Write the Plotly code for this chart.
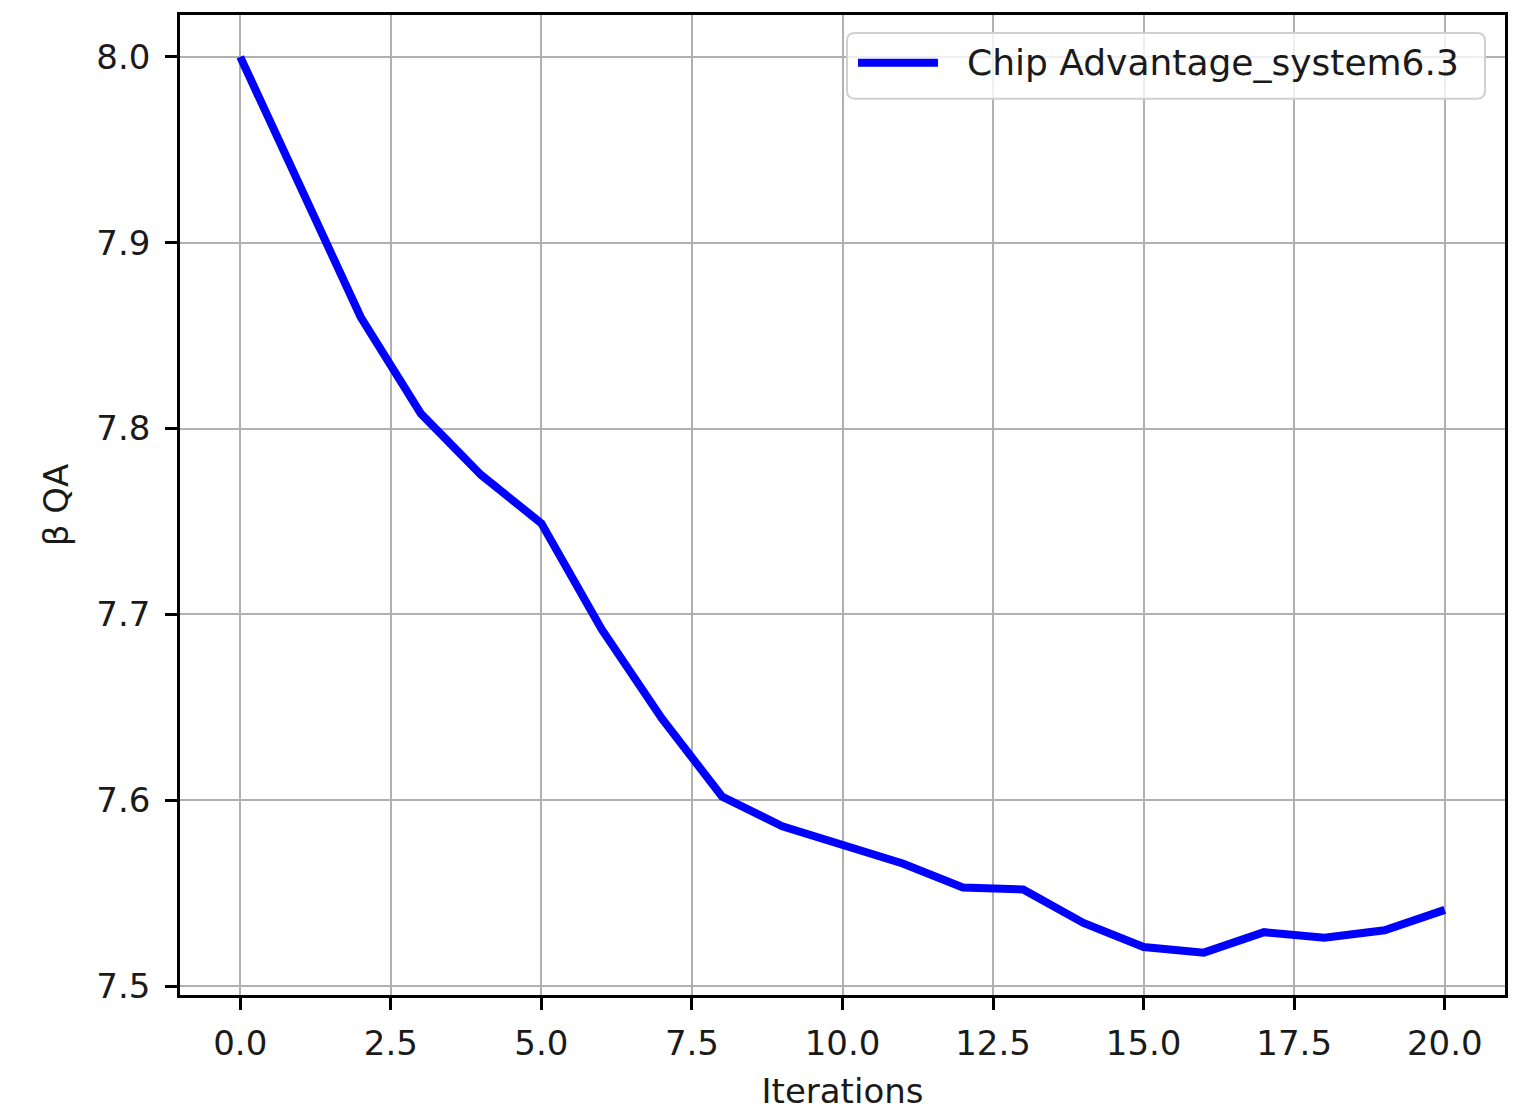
import plotly.graph_objects as go

# Beta QA value per iteration for the chip run
iterations = list(range(21))
beta_qa = [8.000, 7.929, 7.860, 7.808, 7.775, 7.749, 7.692, 7.644, 7.602, 7.586,
           7.576, 7.566, 7.553, 7.552, 7.534, 7.521, 7.518, 7.529, 7.526, 7.530, 7.541]
series_name = "Chip Advantage_system6.3"

x_ticks = [0, 2.5, 5, 7.5, 10, 12.5, 15, 17.5, 20]
x_tick_text = ["0.0", "2.5", "5.0", "7.5", "10.0", "12.5", "15.0", "17.5", "20.0"]
y_ticks = [7.5, 7.6, 7.7, 7.8, 7.9, 8.0]
y_tick_text = ["7.5", "7.6", "7.7", "7.8", "7.9", "8.0"]

FONT = "DejaVu Sans"
TEXT = "#1a1a1a"
GRID = "#b0b0b0"
LINE_COLOR = "#0000ff"
FS = 34

fig = go.Figure()
fig.add_trace(go.Scatter(
    x=iterations, y=beta_qa, mode="lines", name=series_name,
    line=dict(color=LINE_COLOR, width=8), showlegend=False,
))

axis_common = dict(
    showline=True, linecolor="black", linewidth=2.6, mirror=True,
    showgrid=True, gridcolor=GRID, gridwidth=2.2,
    ticks="outside", ticklen=12, tickwidth=2.6, tickcolor="black",
    zeroline=False, tickfont=dict(family=FONT, size=FS, color=TEXT),
)

fig.update_xaxes(
    range=[-1.0, 21.0], tickmode="array", tickvals=x_ticks, ticktext=x_tick_text,
    ticklabelstandoff=4,
    title=dict(text="Iterations", font=dict(family=FONT, size=FS, color=TEXT), standoff=18),
    **axis_common,
)
fig.update_yaxes(
    range=[7.4952, 8.0225], tickmode="array", tickvals=y_ticks, ticktext=y_tick_text,
    ticklabelstandoff=8,
    title=dict(text="β QA", font=dict(family=FONT, size=FS, color=TEXT), standoff=18),
    **axis_common,
)

# Legend box (rounded frame) in the upper-right corner of the plot area
bx0, bx1, by0, by1 = 0.5034, 0.9849, 0.9146, 0.9817
rx, ry = 0.006, 0.008
legend_path = (
    f"M{bx0 + rx},{by1} L{bx1 - rx},{by1} Q{bx1},{by1} {bx1},{by1 - ry} "
    f"L{bx1},{by0 + ry} Q{bx1},{by0} {bx1 - rx},{by0} "
    f"L{bx0 + rx},{by0} Q{bx0},{by0} {bx0},{by0 + ry} "
    f"L{bx0},{by1 - ry} Q{bx0},{by1} {bx0 + rx},{by1} Z"
)
legend_y = 0.9512

fig.update_layout(
    width=1522, height=1116,
    margin=dict(l=180, r=17, t=14, b=118),
    paper_bgcolor="white", plot_bgcolor="white",
    showlegend=False,
    shapes=[
        dict(type="path", xref="paper", yref="paper", path=legend_path,
             fillcolor="rgba(255,255,255,0.8)", line=dict(color="#d0d0d0", width=2),
             layer="above"),
        dict(type="line", xref="paper", yref="paper",
             x0=0.5117, x1=0.5721, y0=legend_y, y1=legend_y,
             line=dict(color=LINE_COLOR, width=8), layer="above"),
    ],
    annotations=[
        dict(text=series_name, xref="paper", yref="paper", x=0.5925, y=legend_y,
             xanchor="left", yanchor="middle", showarrow=False,
             font=dict(family=FONT, size=36, color=TEXT)),
    ],
)

fig.write_html("out.html")
